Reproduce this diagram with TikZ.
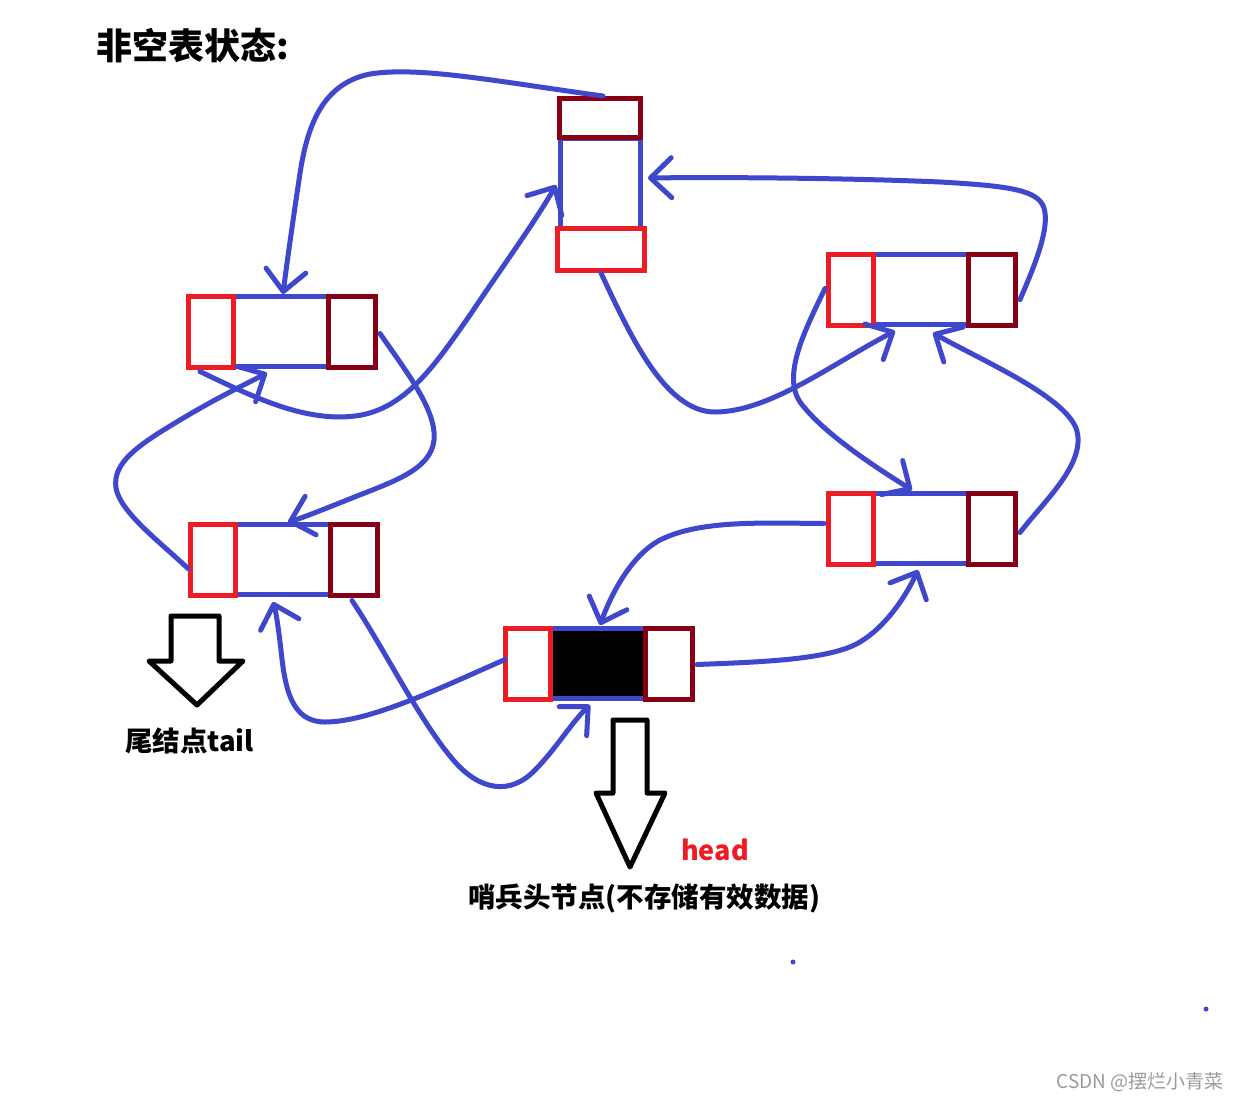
\documentclass[tikz,border=0pt]{standalone}
\usepackage{fontspec}
\newfontfamily\cjk{Noto Sans CJK SC}
\usetikzlibrary{arrows.meta,calc}
\definecolor{lblue}{HTML}{3F48CC}
\definecolor{pred}{HTML}{ED1C24}
\definecolor{dred}{HTML}{880015}
\definecolor{wgray}{HTML}{9A9A9A}
\newcommand{\dlnode}[4]{%
  \node[midbox,fill=#4] (#1) at ({#2+95},{#3+37.5}) {};
  \node[redbox] (#1-prev) at ({#2+25},{#3+37.5}) {};
  \node[darkbox] (#1-next) at ({#2+166},{#3+37.5}) {};
}
\begin{document}
\begin{tikzpicture}[x=1pt,y=-1pt,
  redbox/.style={draw=pred,line width=5pt,inner sep=0pt,minimum width=45pt,minimum height=71pt},
  darkbox/.style={draw=dred,line width=5pt,inner sep=0pt,minimum width=47pt,minimum height=71pt},
  midbox/.style={draw=lblue,line width=5pt,inner sep=0pt,minimum width=95pt,minimum height=70pt},
  conn/.style={draw=lblue,line width=5pt,line cap=round,line join=round,-{Straight Barb[length=21pt,width=40pt,round]}},
  hollow/.style={draw=black,line width=5pt,line join=round},
  lbl/.style={inner sep=0pt},
]
\useasboundingbox (0,0) rectangle (1241,1101);
\fill[white] (0,0) rectangle (1241,1101);

% list nodes
\dlnode{LT}{186}{294}{white}
\dlnode{LB}{188}{522}{white}
\dlnode{RT}{826}{252}{white}
\dlnode{RB}{826}{491}{white}
\dlnode{H}{503}{626}{black}

% top vertical node
\node[draw=lblue,line width=5pt,inner sep=0pt,minimum width=80pt,minimum height=90pt] (T) at (600.5,183) {};
\node[draw=dred,line width=5pt,inner sep=0pt,minimum width=81pt,minimum height=39pt] (T-next) at (600,118) {};
\node[draw=pred,line width=5pt,inner sep=0pt,minimum width=87pt,minimum height=42pt] (T-prev) at (601,249.5) {};

% connectors
\draw[conn] ($(T-next.north)+(3,0)$) .. controls (500,82) and (420,66) .. (370,74) .. controls (320,84) and (306,130) .. (299,180) .. controls (293,220) and (287,262) .. ($(LT.north)+(2,0)$);
\draw[conn] ($(LT-prev.south)+(-11,2)$) .. controls (255,398) and (305,422) .. (355,416) .. controls (405,410) and (435,365) .. (470,315) .. controls (500,270) and (535,222) .. ($(T.west)+(-2,2)$);
\draw[conn] (T-prev.south) .. controls (630,335) and (665,412) .. (715,412) .. controls (770,412) and (835,362) .. ($(RT.south)+(-26,4)$);
\draw[conn] ($(RT-next.east)+(2,10)$) .. controls (1035,265) and (1050,228) .. (1044,208) .. controls (1038,190) and (1010,186) .. (940,182) .. controls (850,178) and (720,177) .. ($(T.east)+(5,-5)$);
\draw[conn] ($(RT-prev.west)+(-1,-1)$) .. controls (805,330) and (782,375) .. (800,402) .. controls (822,432) and (872,465) .. ($(RB.north)+(-9,-1)$);
\draw[conn] ($(RB-next.east)+(2,4)$) .. controls (1045,500) and (1088,462) .. (1076,428) .. controls (1062,395) and (985,362) .. ($(RT.south)+(12,6)$);
\draw[conn] ($(RB-prev.west)+(-2,-5)$) .. controls (760,523) and (700,520) .. (660,540) .. controls (632,555) and (612,592) .. ($(H.north)+(2,-1)$);
\draw[conn] ($(H-next.east)+(2,1)$) .. controls (760,662) and (830,660) .. (860,642) .. controls (885,627) and (905,598) .. ($(RB.south)+(-3,4)$);
\draw[conn] ($(H-prev.west)+(2,-4)$) .. controls (440,688) and (370,722) .. (325,722) .. controls (292,722) and (285,690) .. (281,650) .. controls (278,625) and (276,612) .. ($(LB.south)+(-10,5)$);
\draw[conn] ($(LB-next.south)+(-2,3)$) .. controls (385,650) and (420,722) .. (455,762) .. controls (480,790) and (510,796) .. (535,770) .. controls (555,750) and (572,722) .. ($(H.south)+(-8,4)$);
\draw[conn] ($(LT-next.east)+(2,2)$) .. controls (405,370) and (437,410) .. (434,440) .. controls (431,470) and (392,482) .. (352,498) .. controls (322,510) and (302,518) .. ($(LB.north)+(5,0)$);
\draw[conn] ($(LB-prev.west)+(0,9)$) .. controls (160,542) and (120,512) .. (116,488) .. controls (112,462) and (140,444) .. (180,420) .. controls (220,396) and (250,382) .. ($(LT.south)+(-14,4)$);

% hollow arrows
\draw[hollow] (171,616) -- (219,616) -- (219,661) -- (243,661) -- (197,705) -- (149,661) -- (171,661) -- cycle;
\draw[hollow] (613,720) -- (647,720) -- (647,793) -- (665,793) -- (630,867) -- (596,793) -- (613,793) -- cycle;

% texts
\node[lbl,anchor=west,font={\cjk\bfseries\fontsize{36}{40}\selectfont}] (title) at (96,46) {非空表状态:};
\node[lbl,font={\cjk\bfseries\fontsize{27.5}{32}\selectfont}] (tailtxt) at (189.5,741) {尾结点tail};
\node[lbl,text=pred,font={\cjk\bfseries\fontsize{27}{31}\selectfont}] (headtxt) at (715,850) {head};
\node[lbl,font={\cjk\bfseries\fontsize{27.5}{32}\selectfont}] (sentinel) at (644,898) {哨兵头节点(不存储有效数据)};
\node[lbl,text=wgray,font={\cjk\fontsize{19}{22}\selectfont}] (wm) at (1140,1082) {CSDN @摆烂小青菜};

% stray dots
\fill[lblue] (793,962) circle[radius=2.5pt];
\fill[lblue] (1206,1009) circle[radius=2.5pt];
\end{tikzpicture}
\end{document}
